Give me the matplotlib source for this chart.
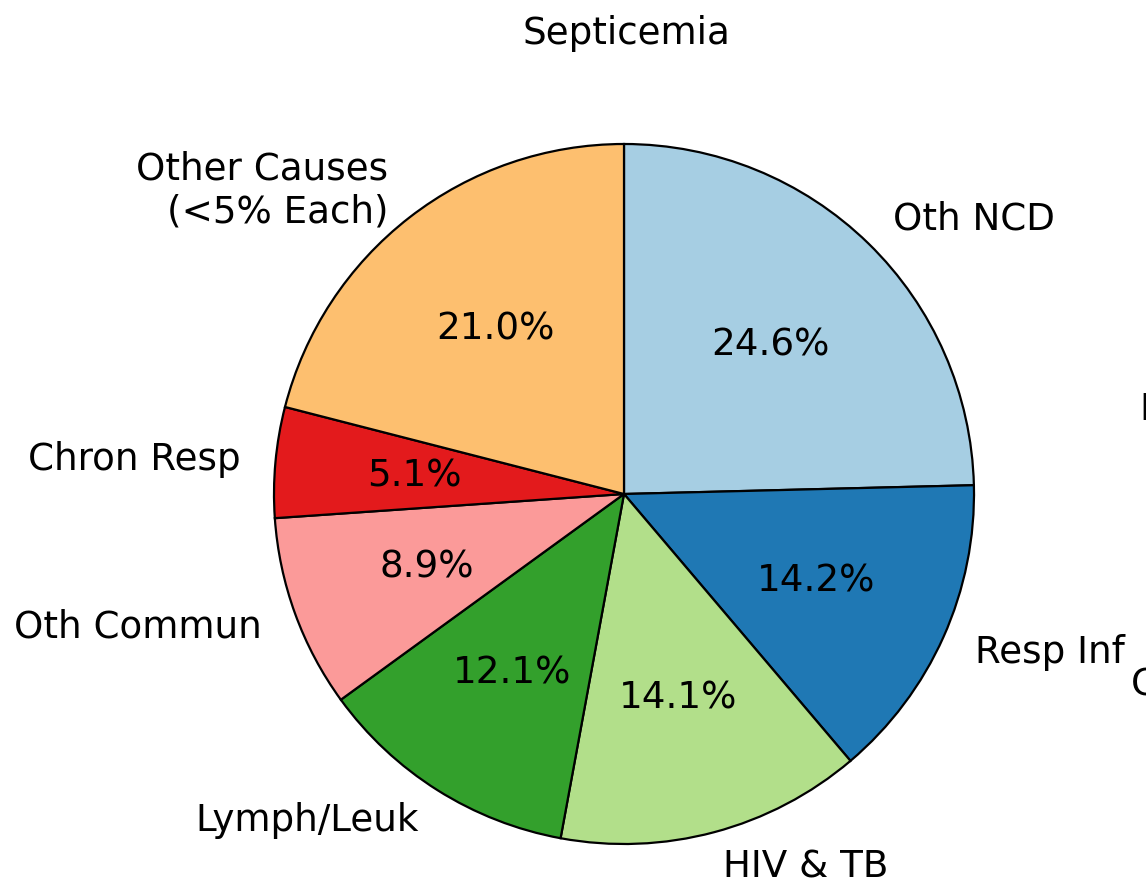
import matplotlib.pyplot as plt

# slices, clockwise from 12 o'clock
labels = ['Oth NCD', 'Resp Inf', 'HIV & TB', 'Lymph/Leuk', 'Oth Commun',
          'Chron Resp', 'Other Causes\n(<5% Each)']
values = [24.6, 14.2, 14.1, 12.1, 8.9, 5.1, 21.0]
colors = ['#a6cee3', '#1f78b4', '#b2df8a', '#33a02c', '#fb9a99', '#e31a1c', '#fdbf6f']

W, H = 1146, 895
fig = plt.figure(figsize=(W / 100, H / 100), dpi=100)

# pie centre (624, 494) px, radius 350 px; pie uses +-1.25 limits
cx, cy, r = 624, 495, 350
half = 1.25 * r
ax = fig.add_axes([(cx - half) / W, (H - cy - half) / H, 2 * half / W, 2 * half / H])

fs = 26.8
ax.pie(values, labels=labels, colors=colors, autopct='%1.1f%%',
       startangle=90, counterclock=False,
       wedgeprops={'edgecolor': 'black', 'linewidth': 1.6},
       textprops={'fontsize': fs})
ax.set_xlim(-1.25, 1.25)
ax.set_ylim(-1.25, 1.25)
ax.set_aspect('equal')

fig.text(626 / W, 1 - 44 / H, 'Septicemia', ha='center', va='baseline', fontsize=fs)

# labels of the neighbouring chart, cut by the right edge
fig.text(1139 / W, 1 - 410 / H, 'D', ha='left', va='center', fontsize=fs)
fig.text(1131 / W, 1 - 685 / H, 'C', ha='left', va='center', fontsize=fs)

fig.savefig('out.png', dpi=100)
